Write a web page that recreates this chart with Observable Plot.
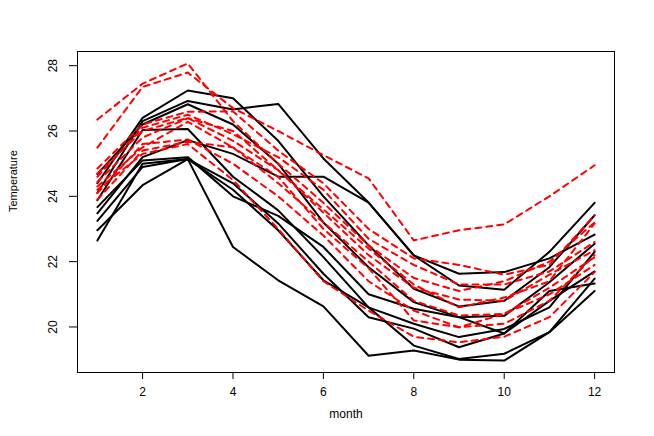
<!DOCTYPE html>
<html><head><meta charset="utf-8">
<script src="https://cdn.jsdelivr.net/npm/d3@7"></script>
<script src="https://cdn.jsdelivr.net/npm/@observablehq/plot@0.6"></script>
<style>
body{margin:0;background:#fff;}
#chart svg{display:block;}
</style></head><body><div id="chart"></div>
<script>
const months = [1,2,3,4,5,6,7,8,9,10,11,12];
const xTicks = [2,4,6,8,10,12];
const yTicks = [20,22,24,26,28];
const xLabel = "month";
const yLabel = "Temperature";

// black solid series
const k1 = [24.40,26.40,27.24,27.00,25.70,24.00,22.50,21.17,20.63,20.80,21.83,23.42];
const k2 = [24.10,26.30,26.92,26.66,26.83,25.16,23.81,22.19,21.63,21.68,22.10,22.83];
const k3 = [24.68,26.20,26.82,26.20,25.00,23.20,21.83,20.76,20.30,20.34,21.37,22.55];
const k4 = [23.88,26.03,26.06,24.60,23.57,22.14,20.60,20.10,19.69,19.94,20.60,22.30];
const k5 = [23.48,25.20,25.72,25.30,24.60,24.60,23.81,22.19,21.27,21.14,22.30,23.80];
const k6 = [23.25,24.90,25.14,24.40,23.17,21.63,20.30,19.95,19.38,19.80,20.80,21.70];
const k7 = [22.96,24.34,25.14,22.45,21.43,20.63,19.12,19.28,19.00,18.97,19.84,21.10];
const k8 = [22.65,25.00,25.14,24.20,22.96,21.43,20.60,19.43,19.02,19.18,19.84,21.48];
const k9 = [23.67,25.10,25.20,24.00,23.40,22.45,21.00,20.56,20.30,19.80,21.10,21.33];

// red dashed series
const r1 = [26.35,27.45,28.07,26.30,25.00,23.80,22.50,21.50,21.10,21.40,22.00,23.20];
const r2 = [25.49,27.35,27.79,26.70,26.00,25.26,24.55,22.65,22.96,23.14,24.00,24.95];
const r3 = [24.85,26.20,26.59,26.60,25.40,24.40,23.00,22.10,21.90,21.60,21.90,23.42];
const r4 = [24.60,26.10,26.50,25.90,25.20,24.20,22.70,21.90,21.30,21.30,21.70,22.60];
const r5 = [24.44,25.80,26.39,26.00,24.80,23.50,22.20,21.20,20.84,20.80,21.60,22.35];
const r6 = [24.30,25.50,26.28,25.50,24.40,23.20,22.00,20.80,20.35,20.40,21.20,22.14];
const r7 = [24.10,25.60,25.74,25.00,24.00,22.80,21.40,20.50,19.99,20.10,20.80,22.20];
const r8 = [23.90,25.40,25.67,25.50,24.60,23.00,21.80,20.20,19.99,20.40,21.00,21.90];
const r9 = [24.20,25.30,25.60,24.50,23.00,21.40,20.50,19.70,19.53,19.70,20.30,21.68];
const r10 = [24.70,26.00,26.40,25.70,24.80,23.60,22.40,21.30,20.60,20.90,21.40,23.17];

const blackLines = [k1,k2,k3,k4,k5,k6,k7,k8,k9];
const redLines = [r1,r2,r3,r4,r5,r6,r7,r8,r9,r10];

function tidy(list, prefix) {
  const out = [];
  list.forEach((vals, i) => vals.forEach((v, j) => out.push({series: prefix + i, month: months[j], temp: v})));
  return out;
}
const blackData = tidy(blackLines, "k");
const redData = tidy(redLines, "r");

// R-style 4% padding of data range
const allVals = blackLines.concat(redLines).flat();
const yMin = d3.min(allVals), yMax = d3.max(allVals);
const yPad = (yMax - yMin) * 0.04;
const xPad = (d3.max(months) - d3.min(months)) * 0.04;

const chart = Plot.plot({
  width: 654,
  height: 436,
  marginLeft: 77,
  marginRight: 40,
  marginTop: 51,
  marginBottom: 64,
  style: {fontFamily: "'Liberation Sans', Arial, sans-serif", fontSize: "12px", background: "#fff", color: "#000"},
  x: {domain: [d3.min(months) - xPad, d3.max(months) + xPad]},
  y: {domain: [yMin - yPad, yMax + yPad]},
  marks: [
    Plot.line(blackData, {x: "month", y: "temp", z: "series", stroke: "#000", strokeWidth: 2, curve: "linear"}),
    Plot.line(redData, {x: "month", y: "temp", z: "series", stroke: "#ff0000", strokeWidth: 2, strokeDasharray: "6,5", curve: "linear"}),
    Plot.frame({stroke: "#000", strokeWidth: 1}),
    Plot.axisX({ticks: xTicks, tickSize: 7, tickPadding: 8, label: null, fontSize: 12}),
    Plot.axisY({ticks: yTicks, tickSize: 8, tickPadding: 13, tickRotate: -90, label: null, fontSize: 12}),
    Plot.text([xLabel], {frameAnchor: "bottom", dy: 45, text: d => d, fontSize: 12}),
    Plot.text([yLabel], {frameAnchor: "left", dx: -64, rotate: -90, text: d => d, fontSize: 11})
  ]
});
document.getElementById("chart").appendChild(chart);
</script>
</body></html>
